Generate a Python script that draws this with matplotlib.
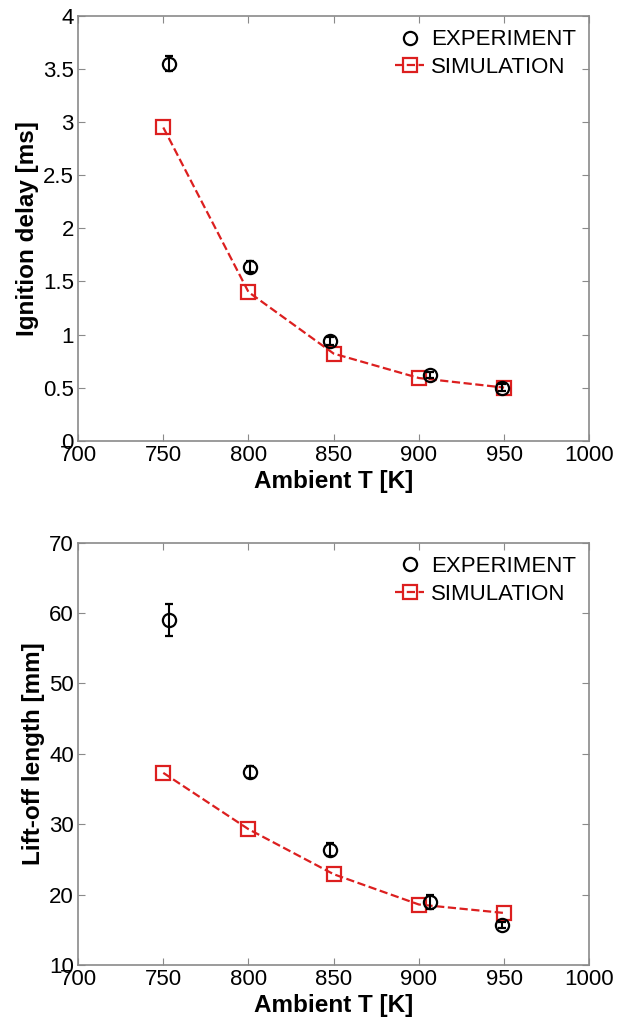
import numpy as np
import matplotlib
matplotlib.use("Agg")
from matplotlib import pyplot as plt

plt.rcParams['font.family'] = ['Liberation Sans', 'DejaVu Sans']

# ignition delay
exp_T_ign = [753.5, 801, 848, 906.5, 948.5]
exp_ign = [3.55, 1.64, 0.94, 0.62, 0.50]
exp_ign_err = [0.07, 0.05, 0.04, 0.03, 0.03]
sim_T = [750, 800, 850, 900, 950]
sim_ign = [2.95, 1.40, 0.82, 0.59, 0.50]

# lift-off length
exp_T_lol = [753.5, 801, 848, 906.5, 948.5]
exp_lol = [59.0, 37.4, 26.4, 18.9, 15.7]
exp_lol_err = [2.3, 0.9, 0.9, 1.0, 0.4]
sim_lol = [37.3, 29.3, 22.9, 18.6, 17.4]

xticks = [700, 750, 800, 850, 900, 950, 1000]
red = '#dc1f1f'
gray = '#8a8a8a'

fig = plt.figure(figsize=(6.35, 10.21), dpi=100)
ax1 = fig.add_axes([0.123, 0.5684, 0.805, 0.4159])
ax2 = fig.add_axes([0.123, 0.0548, 0.805, 0.4137])


def draw(ax, T_exp, y_exp, y_err, y_sim, ylim, yticks, ylabel):
    ax.errorbar(T_exp, y_exp, yerr=y_err, fmt='o', mfc='none', mec='black',
                ms=9.5, mew=1.6, ecolor='black', elinewidth=1.5, capsize=3,
                capthick=1.5, zorder=3)
    sim_line, = ax.plot(sim_T, y_sim, '--s', color=red, mfc='none', mec=red,
                        ms=9.5, mew=1.6, lw=1.6, zorder=2)
    ax.set_xlim(700, 1000)
    ax.set_ylim(*ylim)
    ax.set_xticks(xticks)
    ax.set_yticks(yticks)
    ax.set_yticklabels(['%g' % v for v in yticks])
    ax.tick_params(direction='in', top=True, right=True, length=5,
                   color=gray, labelsize=16, pad=3)
    for s in ax.spines.values():
        s.set_color(gray)
        s.set_linewidth(1.2)
    ax.set_xlabel('Ambient T [K]', fontsize=17.5, fontweight='bold', labelpad=3)
    ax.set_ylabel(ylabel, fontsize=17.5, fontweight='bold', labelpad=3)
    # plain circle for the experiment entry, no error bar in the legend
    h_exp = plt.Line2D([], [], ls='none', marker='o', mfc='none', mec='black',
                       ms=9.5, mew=1.6)
    ax.legend([h_exp, sim_line], ['EXPERIMENT', 'SIMULATION'],
              loc='upper right', frameon=False, fontsize=16,
              handlelength=1.3, handletextpad=0.3, borderaxespad=0.2,
              labelspacing=0.3)


draw(ax1, exp_T_ign, exp_ign, exp_ign_err, sim_ign, (0, 4),
     [0, 0.5, 1, 1.5, 2, 2.5, 3, 3.5, 4], 'Ignition delay [ms]')
draw(ax2, exp_T_lol, exp_lol, exp_lol_err, sim_lol, (10, 70),
     [10, 20, 30, 40, 50, 60, 70], 'Lift-off length [mm]')

fig.savefig('out.png', dpi=100)
